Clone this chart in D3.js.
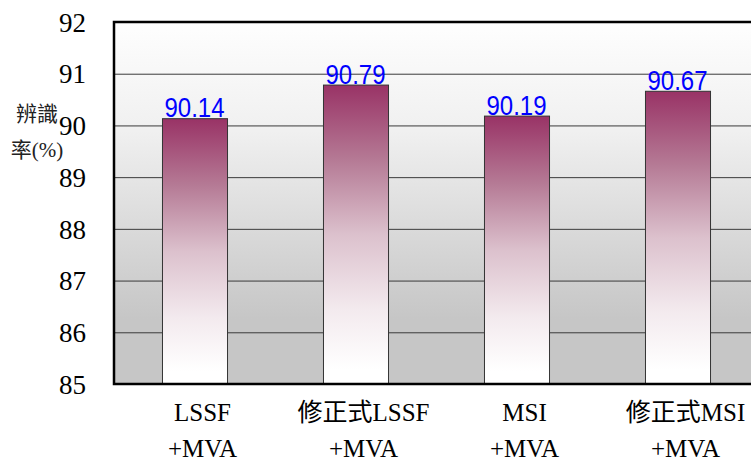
<!DOCTYPE html>
<html lang="zh-Hant">
<head>
    <meta charset="utf-8">
    <style>
        body { margin: 0; background: #fff; }
    </style>
    <script src="https://d3js.org/d3.v7.min.js"></script>
</head>
<body>
    <svg width="751" height="462"></svg>
    <script>
        var categories = ["LSSF", "修正式LSSF", "MSI", "修正式MSI"];
        var catLine2 = ["+MVA", "+MVA", "+MVA", "+MVA"];
        var rates = [90.14, 90.79, 90.19, 90.67];
        var yTicks = [85, 86, 87, 88, 89, 90, 91, 92];

        var serif = "'Liberation Serif', 'Times New Roman', serif";

        var svg = d3.select("svg"),
            plotLeft = 114, plotTop = 22, plotBottom = 384, plotRight = 758;

        var defs = svg.append("defs");

        // plot area background, light at top, grey toward the bottom
        var bg = defs.append("linearGradient")
            .attr("id", "bg").attr("x1", 0).attr("y1", 0).attr("x2", 0).attr("y2", 1);
        bg.append("stop").attr("offset", 0).attr("stop-color", "#fefefe");
        bg.append("stop").attr("offset", 0.3).attr("stop-color", "#f0f0f0");
        bg.append("stop").attr("offset", 0.82).attr("stop-color", "#c6c6c6");
        bg.append("stop").attr("offset", 1).attr("stop-color", "#c6c6c6");

        // bar fill, plum at top fading to white
        var bar = defs.append("linearGradient")
            .attr("id", "barfill").attr("x1", 0).attr("y1", 0).attr("x2", 0).attr("y2", 1);
        bar.append("stop").attr("offset", 0).attr("stop-color", "#993366");
        bar.append("stop").attr("offset", 0.25).attr("stop-color", "#b57a95");
        bar.append("stop").attr("offset", 0.5).attr("stop-color", "#dcc1cd");
        bar.append("stop").attr("offset", 0.75).attr("stop-color", "#f3eaee");
        bar.append("stop").attr("offset", 0.95).attr("stop-color", "#ffffff");
        bar.append("stop").attr("offset", 1).attr("stop-color", "#ffffff");

        var x = d3.scaleBand()
            .domain(categories)
            .range([plotLeft, plotRight])
            .paddingInner(0.596)
            .paddingOuter(0.298);

        var y = d3.scaleLinear().domain([85, 92]).range([plotBottom, plotTop]);

        svg.append("rect")
            .attr("x", plotLeft).attr("y", plotTop)
            .attr("width", plotRight - plotLeft).attr("height", plotBottom - plotTop)
            .attr("fill", "url(#bg)");

        // grid lines
        svg.append("g")
            .selectAll("line")
            .data(yTicks.filter(function(d) { return d > 85 && d < 92; }))
            .enter().append("line")
            .attr("x1", plotLeft).attr("x2", plotRight)
            .attr("y1", function(d) { return y(d) + 0.5; })
            .attr("y2", function(d) { return y(d) + 0.5; })
            .attr("stroke", "#3a3a3a")
            .attr("stroke-width", 1);

        // bars
        svg.append("g")
            .selectAll("rect")
            .data(rates)
            .enter().append("rect")
            .attr("x", function(d, i) { return x(categories[i]) + 0.5; })
            .attr("y", function(d) { return y(d) + 0.5; })
            .attr("width", x.bandwidth())
            .attr("height", function(d) { return plotBottom - y(d); })
            .attr("fill", "url(#barfill)")
            .attr("stroke", "#333")
            .attr("stroke-width", 1);

        // frame: left, top and bottom edges
        svg.append("path")
            .attr("d", "M" + plotRight + "," + plotTop + "H" + plotLeft + "V" + plotBottom + "H" + plotRight)
            .attr("fill", "none")
            .attr("stroke", "#000")
            .attr("stroke-width", 2.5);

        // y axis labels
        var yAxis = svg.append("g")
            .attr("transform", "translate(" + plotLeft + ",0)")
            .call(d3.axisLeft(y).tickValues(yTicks).tickSize(0).tickPadding(28).tickFormat(d3.format("d")))
            .attr("font-family", serif)
            .attr("font-size", 27);
        yAxis.select(".domain").remove();
        yAxis.selectAll("text")
            .style("font-family", serif)
            .attr("fill", "#000")
            .attr("dy", "0.34em");

        // value labels
        svg.append("g")
            .selectAll("text")
            .data(rates)
            .enter().append("text")
            .style("font-family", "'Liberation Sans', Arial, sans-serif")
            .attr("fill", "#0000ff")
            .attr("x", function(d, i) { return x(categories[i]) + x.bandwidth() / 2; })
            .attr("y", function(d) { return y(d) - 1; })
            .attr("text-anchor", "middle")
            .attr("font-size", "28px")
            .attr("textLength", 60)
            .attr("lengthAdjust", "spacingAndGlyphs")
            .text(function(d) { return d.toFixed(2); });

        // category labels, two lines
        var cat = svg.append("g")
            .selectAll("text")
            .data(categories)
            .enter().append("text")
            .style("font-family", serif + ", 'Noto Sans CJK TC'")
            .attr("text-anchor", "middle")
            .attr("font-size", "25px")
            .attr("fill", "#000");
        cat.append("tspan")
            .attr("x", function(d) { return x(d) + x.bandwidth() / 2 + 8; })
            .attr("y", 421)
            .text(function(d) { return d; });
        cat.append("tspan")
            .attr("x", function(d) { return x(d) + x.bandwidth() / 2 + 8; })
            .attr("y", 457)
            .text(function(d, i) { return catLine2[i]; });

        // y title
        var yt = svg.append("text")
            .style("font-family", serif + ", 'Noto Sans CJK TC'")
            .attr("font-size", "21px")
            .attr("fill", "#222")
            .attr("text-anchor", "middle");
        yt.append("tspan").attr("x", 37).attr("y", 121).text("辨識");
        yt.append("tspan").attr("x", 37).attr("y", 157).text("率(%)");
    </script>
</body>
</html>
